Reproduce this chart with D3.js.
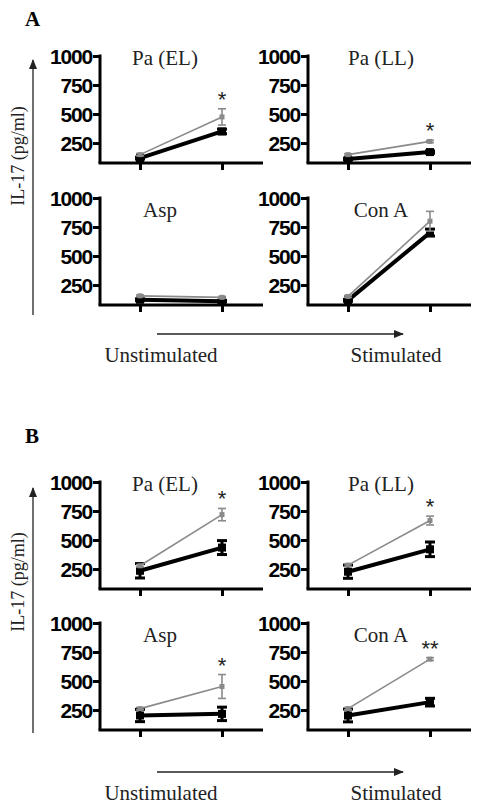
<!DOCTYPE html>
<html><head><meta charset="utf-8">
<script src="https://cdn.jsdelivr.net/npm/d3@7"></script>
<style>body{margin:0;background:#fff}svg{display:block}
.serif{font-family:"Liberation Serif","Times New Roman",Times,"Nimbus Roman","DejaVu Serif",serif}
.sans{font-family:"Liberation Sans",Arial,Helvetica,"DejaVu Sans",sans-serif}
</style>
</head><body>
<svg id="c" width="481" height="809"></svg>
<script>
// ---- data ----
const panelTitles = ["Pa (EL)", "Pa (LL)", "Asp", "Con A"];
const conditions = ["Unstimulated", "Stimulated"];
const yTickValues = [250, 500, 750, 1000];
const figureLabels = ["A", "B"];
const yLabel = "IL-17 (pg/ml)";

// Figure A
const grayA      = [[150, 475], [150, 264], [157, 144], [152, 800]];
const grayAErr   = [[10, 70],   [8, 10],    [8, 8],     [8, 85]];
const blackA     = [[120, 350], [112, 172], [123, 110], [118, 702]];
const blackAErr  = [[8, 20],    [8, 10],    [8, 8],     [8, 30]];
const sigA       = ["*", "*", "", ""];

// Figure B
const grayB      = [[278, 719], [284, 668], [262, 453], [262, 689]];
const grayBErr   = [[10, 53],   [10, 38],   [10, 103],  [10, 12]];
const blackB     = [[235, 435], [227, 420], [203, 217], [203, 318]];
const blackBErr  = [[62, 60],   [57, 63],   [53, 58],   [55, 33]];
const sigB       = ["*", "*", "*", "**"];

// ---- layout ----
const svg = d3.select("#c");
const figs = [
  {label: figureLabels[0], labelY: 26, rowTops: [56, 198], gray: grayA, gErr: grayAErr, black: blackA, bErr: blackAErr, sig: sigA,
   arrowV: [60, 315], yLabelY: 156, arrowH: 334, condY: 362},
  {label: figureLabels[1], labelY: 443, rowTops: [482, 623], gray: grayB, gErr: grayBErr, black: blackB, bErr: blackBErr, sig: sigB,
   arrowV: [488, 733], yLabelY: 582, arrowH: 772, condY: 800}
];
const colX = [100, 308];
const plotH = 107;   // from 1000 tick to x axis
const axisLen = 163;
const grayCol = "#8a8a8a";

const defs = svg.append("defs");
defs.append("marker").attr("id", "ah").attr("viewBox", "0 0 10 10").attr("refX", 9).attr("refY", 5)
  .attr("markerWidth", 10).attr("markerHeight", 10).attr("markerUnits", "userSpaceOnUse").attr("orient", "auto")
  .append("path").attr("d", "M0,1 L10,5 L0,9 Z").attr("fill", "#222");

figs.forEach(f => {
  svg.append("text").attr("class", "serif").attr("x", 25).attr("y", f.labelY).text(f.label)
    .attr("font-weight", "bold").attr("font-size", 21);

  // vertical arrow + y label
  svg.append("line").attr("x1", 33).attr("x2", 33).attr("y1", f.arrowV[1]).attr("y2", f.arrowV[0])
    .attr("stroke", "#222").attr("stroke-width", 1.3).attr("marker-end", "url(#ah)");
  svg.append("text").attr("class", "serif").attr("transform", `translate(18,${f.yLabelY}) rotate(-90)`).attr("text-anchor", "middle")
    .attr("dominant-baseline", "central").text(yLabel).attr("font-size", 18).attr("fill", "#222");

  // horizontal arrow + condition labels
  svg.append("line").attr("x1", 157).attr("x2", 403).attr("y1", f.arrowH).attr("y2", f.arrowH)
    .attr("stroke", "#222").attr("stroke-width", 1.3).attr("marker-end", "url(#ah)");
  svg.append("text").attr("class", "serif").attr("x", 161).attr("y", f.condY).attr("text-anchor", "middle").text(conditions[0])
    .attr("font-size", 21).attr("fill", "#222");
  svg.append("text").attr("class", "serif").attr("x", 396).attr("y", f.condY).attr("text-anchor", "middle").text(conditions[1])
    .attr("font-size", 21).attr("fill", "#222");

  panelTitles.forEach((title, i) => {
    const row = Math.floor(i / 2), col = i % 2;
    const x0 = colX[col], top = f.rowTops[row];
    const g = svg.append("g").attr("transform", `translate(${x0},${top})`);
    const y = d3.scaleLinear().domain([78, 1000]).range([plotH, 0]);
    const x = d3.scalePoint().domain(conditions).range([40, 122]);

    // y axis
    const ya = g.append("g").call(d3.axisLeft(y).tickValues(yTickValues).tickFormat(d3.format("d"))
      .tickSize(7).tickPadding(1).tickSizeOuter(0));
    ya.attr("font-family", null).attr("font-size", null);
    ya.select(".domain").attr("stroke", "#000").attr("stroke-width", 3).attr("d", `M0,${plotH}V-1.5`);
    ya.selectAll(".tick line").attr("stroke", "#000").attr("stroke-width", 3);
    ya.selectAll(".tick text").attr("class", "sans").attr("font-weight", "bold")
      .attr("font-size", 21).attr("letter-spacing", -1.2).attr("fill", "#000").attr("dy", "0.36em");

    // x axis
    const xa = g.append("g").attr("transform", `translate(0,${plotH})`)
      .call(d3.axisBottom(x).tickSize(7).tickSizeOuter(0).tickFormat(""));
    xa.select(".domain").attr("stroke", "#000").attr("stroke-width", 3).attr("d", `M-1.5,0H${axisLen}`);
    xa.selectAll(".tick line").attr("stroke", "#000").attr("stroke-width", 3);

    // title
    const titleX = (title === "Asp") ? 60 : (col === 0 ? 65 : 73);
    g.append("text").attr("class", "serif").attr("x", titleX).attr("y", row === 0 ? 9 : 19).attr("text-anchor", "middle").text(title)
      .attr("font-size", 21).attr("fill", "#222");

    const series = [
      {vals: f.black[i], err: f.bErr[i], color: "#000", lw: 4, ew: 3, cap: 5, ms: 8},
      {vals: f.gray[i], err: f.gErr[i], color: grayCol, lw: 1.6, ew: 1.6, cap: 4, ms: 5}
    ];
    series.forEach(s => {
      const pts = conditions.map((c, k) => ({x: x(c), v: s.vals[k], e: s.err[k]}));
      g.append("path").datum(pts).attr("fill", "none").attr("stroke", s.color).attr("stroke-width", s.lw)
        .attr("d", d3.line().x(d => d.x).y(d => y(d.v)));
      pts.forEach(p => {
        const yt = y(p.v + p.e), yb = y(Math.max(p.v - p.e, 78));
        g.append("line").attr("x1", p.x).attr("x2", p.x).attr("y1", yt).attr("y2", yb).attr("stroke", s.color).attr("stroke-width", s.ew);
        g.append("line").attr("x1", p.x - s.cap).attr("x2", p.x + s.cap).attr("y1", yt).attr("y2", yt).attr("stroke", s.color).attr("stroke-width", s.ew);
        g.append("line").attr("x1", p.x - s.cap).attr("x2", p.x + s.cap).attr("y1", yb).attr("y2", yb).attr("stroke", s.color).attr("stroke-width", s.ew);
        g.append("rect").attr("x", p.x - s.ms / 2).attr("y", y(p.v) - s.ms / 2).attr("width", s.ms).attr("height", s.ms).attr("fill", s.color);
      });
    });

    if (f.sig[i]) {
      const topVal = Math.max(f.gray[i][1] + f.gErr[i][1], f.black[i][1] + f.bErr[i][1]);
      const cy = y(topVal) - 15;
      g.append("text").attr("class", "sans").attr("x", x(conditions[1])).attr("y", cy + 13).attr("text-anchor", "middle").text(f.sig[i])
        .attr("font-size", 22).attr("fill", "#222");
    }
  });
});
</script>
</body></html>
